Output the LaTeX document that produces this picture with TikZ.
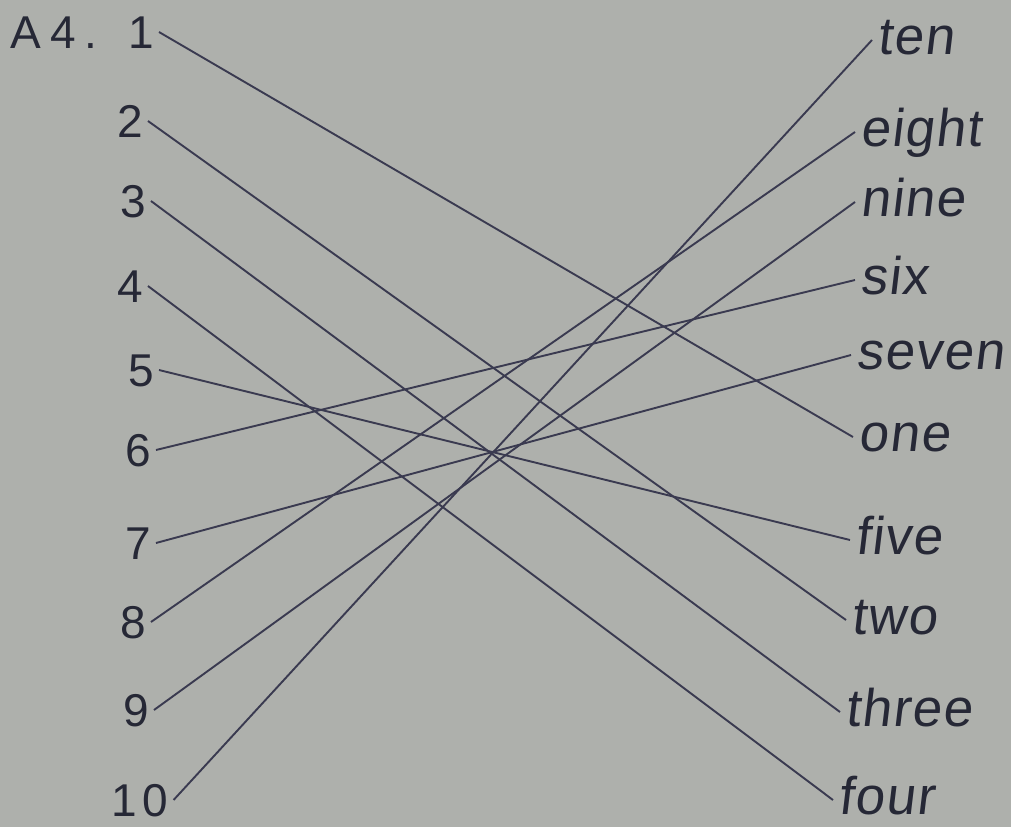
\documentclass[tikz,border=0pt]{standalone}
\usepackage{fontspec}
\usepackage{xcolor}
\usepackage{tikz}
\newfontfamily\hand{Liberation Sans}
\newfontfamily\handsl[FakeSlant=0.12,LetterSpace=3]{Liberation Sans}
\definecolor{paper}{RGB}{174,176,172}
\definecolor{ink}{RGB}{38,40,54}
\definecolor{pen}{RGB}{58,58,80}

\begin{document}
\begin{tikzpicture}[x=1pt, y=-1pt,
      num/.style={anchor=west, inner sep=5pt, text height=33pt, text depth=0pt,
        text=ink, font=\hand\fontsize{46}{50}\selectfont},
      word/.style={anchor=west, inner sep=5pt, text height=28pt, text depth=0pt,
        text=ink, font=\handsl\fontsize{53}{57}\selectfont},
      link/.style={draw=pen, line width=1.9pt}]
    % sheet of paper
    \fill[paper] (0,0) rectangle (1011,827);
    \useasboundingbox (0,0) rectangle (1011,827);
    % question label and left column
    \node[num] (qlabel) at (5,32) {A\hspace{10pt}4\hspace{8pt}.};
    \foreach \k/\x/\y in {1/123/32, 2/112/121, 3/115/201, 4/112/286, 5/123/370,
                          6/120/450, 7/120/543, 8/115/622, 9/118/710} {
      \node[num] (n\k) at (\x,\y) {\k};
    }
    \node[num] (n10) at (106,800) {1\hspace{6pt}0};
    % right column
    \foreach \w/\x/\y in {ten/872/40, eight/855/132, nine/855/202, six/855/280,
                          seven/851/355, one/853/437, five/850/540, two/846/620,
                          three/840/712, four/833/800} {
      \node[word] (\w) at (\x,\y) {\w};
    }
    % matching lines
    \foreach \k/\w in {1/one, 2/two, 3/three, 4/four, 5/five,
                       6/six, 7/seven, 8/eight, 9/nine, 10/ten} {
      \draw[link] (n\k.east) -- (\w.west);
    }
  \end{tikzpicture}
\end{document}
